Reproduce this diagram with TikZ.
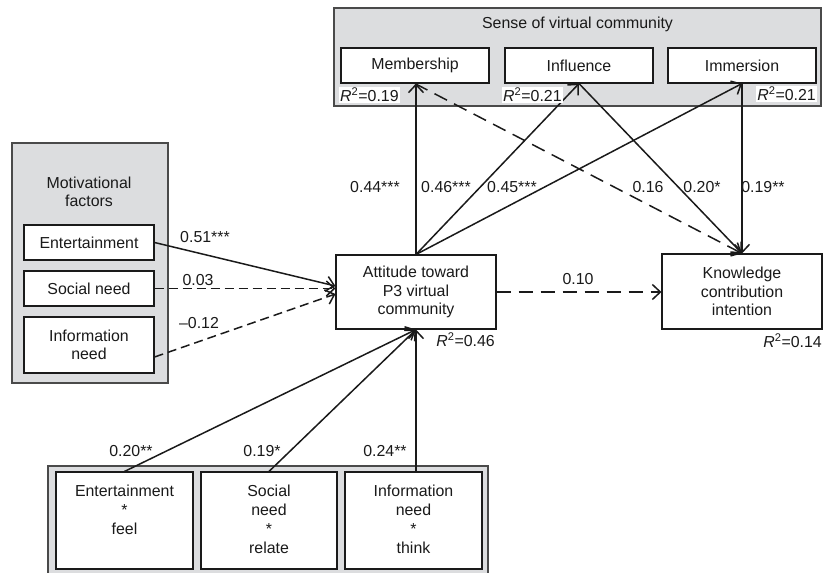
\documentclass[tikz,border=0pt]{standalone}
\usepackage{fontspec}
\setmainfont{Liberation Sans}
\usetikzlibrary{arrows.meta}
\definecolor{panel}{HTML}{DCDDDF}
\definecolor{ink}{HTML}{1A1A1A}
\definecolor{panelline}{HTML}{4A4A4A}
\begin{document}
\begin{tikzpicture}[x=1pt,y=-1pt,
  font=\fontsize{15.9}{18.6}\selectfont,
  panelbox/.style={draw=panelline, fill=panel, line width=1.1pt, inner sep=0pt},
  whitebox/.style={draw=ink, fill=white, line width=1.1pt, inner sep=0pt, align=center, text=ink},
  arr/.style={line width=1.5pt, draw=ink, -{Straight Barb[length=8pt,width=15pt]}},
  sdash/.style={dash pattern=on 9pt off 5pt},
  ldash/.style={dash pattern=on 14pt off 8pt},
  lab/.style={inner sep=0pt, text=ink},
  rsq/.style={inner sep=1pt, fill=white, text=ink}
]
\useasboundingbox (0,0) rectangle (823,573);
% panels
\node[panelbox, minimum width=487pt, minimum height=98pt] (svc) at (577.5,57) {};
\node[lab] (svct) at (577.5,24) {Sense of virtual community};
\node[panelbox, minimum width=156pt, minimum height=240pt] (mot) at (90,263) {};
\node[lab, align=center] (mott) at (89,192) {Motivational\\factors};
\node[panelbox, minimum width=440pt, minimum height=114pt] (bot) at (268,523) {};
% boxes
\node[whitebox, minimum width=148pt, minimum height=35pt] (mem) at (415,65.5) {Membership};
\node[whitebox, minimum width=148pt, minimum height=35pt] (infl) at (579,65.5) {Influence};
\node[whitebox, minimum width=148pt, minimum height=35pt] (imm) at (742,65.5) {Immersion};
\node[whitebox, minimum width=130pt, minimum height=35pt] (ent) at (89,242.5) {Entertainment};
\node[whitebox, minimum width=130pt, minimum height=35pt] (soc) at (89,288.5) {Social need};
\node[whitebox, minimum width=130pt, minimum height=56pt] (inf) at (89,345) {Information\\need};
\node[whitebox, minimum width=160pt, minimum height=74pt] (att) at (416,292) {Attitude toward\\P3 virtual\\community};
\node[whitebox, minimum width=160pt, minimum height=75pt] (kno) at (742,291.5) {Knowledge\\contribution\\intention};
\node[whitebox, minimum width=137pt, minimum height=97pt] (ef) at (124.5,520.5) {};
\node[whitebox, minimum width=136pt, minimum height=97pt] (sr) at (269,520.5) {};
\node[whitebox, minimum width=137pt, minimum height=97pt] (it) at (413.5,520.5) {};
\node[lab, align=center, anchor=north, font=\fontsize{15.9}{19}\selectfont] (eft) at (124.5,485) {Entertainment\\*\\feel};
\node[lab, align=center, anchor=north, font=\fontsize{15.9}{19}\selectfont] (srt) at (269,485) {Social\\need\\*\\relate};
\node[lab, align=center, anchor=north, font=\fontsize{15.9}{19}\selectfont] (itt) at (413.5,485) {Information\\need\\*\\think};
% connectors: motivational
\draw[arr] (ent.east) -- ([yshift=6pt]att.west);
\draw[arr, sdash] (soc.east) -- (soc.east -| att.west);
\draw[arr, sdash] ([yshift=-12pt]inf.east) -- ([yshift=-2pt]att.west);
% connectors: sense of community
\draw[arr] (att.north) -- (att.north |- mem.south);
\draw[arr] (att.north) -- (infl.south);
\draw[arr] (att.north) -- (imm.south);
\draw[arr, ldash] (mem.south) -- (kno.north);
\draw[arr] (infl.south) -- (kno.north);
\draw[arr] (imm.south) -- (kno.north);
\draw[arr, ldash] (att.east) -- (att.east -| kno.west);
% connectors: interactions
\draw[arr] (ef.north) -- (att.south);
\draw[arr] (sr.north) -- (att.south);
\draw[arr] (att.south |- it.north) -- (att.south);
% path labels
\node[lab] (l51) at (205,237) {0.51***};
\node[lab] (l03) at (198,280) {0.03};
\node[lab] (l12) at (199,323) {\textendash0.12};
\node[lab] (l44) at (375,187) {0.44***};
\node[lab] (l46) at (446,187) {0.46***};
\node[lab] (l45) at (512,187) {0.45***};
\node[lab] (l16) at (648,187) {0.16};
\node[lab] (l20) at (702,187) {0.20*};
\node[lab] (l19) at (763,187) {0.19**};
\node[lab] (l10) at (578,279) {0.10};
\node[lab] (b20) at (131,451) {0.20**};
\node[lab] (b19) at (262,451) {0.19*};
\node[lab] (b24) at (385,451) {0.24**};
% R squared
\node[rsq, anchor=west] (r1) at (339,95) {\textit{R}\textsuperscript{2}=0.19};
\node[rsq, anchor=west] (r2) at (502,95) {\textit{R}\textsuperscript{2}=0.21};
\node[rsq, anchor=east] (r3) at (817,94) {\textit{R}\textsuperscript{2}=0.21};
\node[rsq, anchor=east, fill=none] (r4) at (496,340) {\textit{R}\textsuperscript{2}=0.46};
\node[rsq, anchor=east, fill=none] (r5) at (823,341) {\textit{R}\textsuperscript{2}=0.14};
\end{tikzpicture}
\end{document}
